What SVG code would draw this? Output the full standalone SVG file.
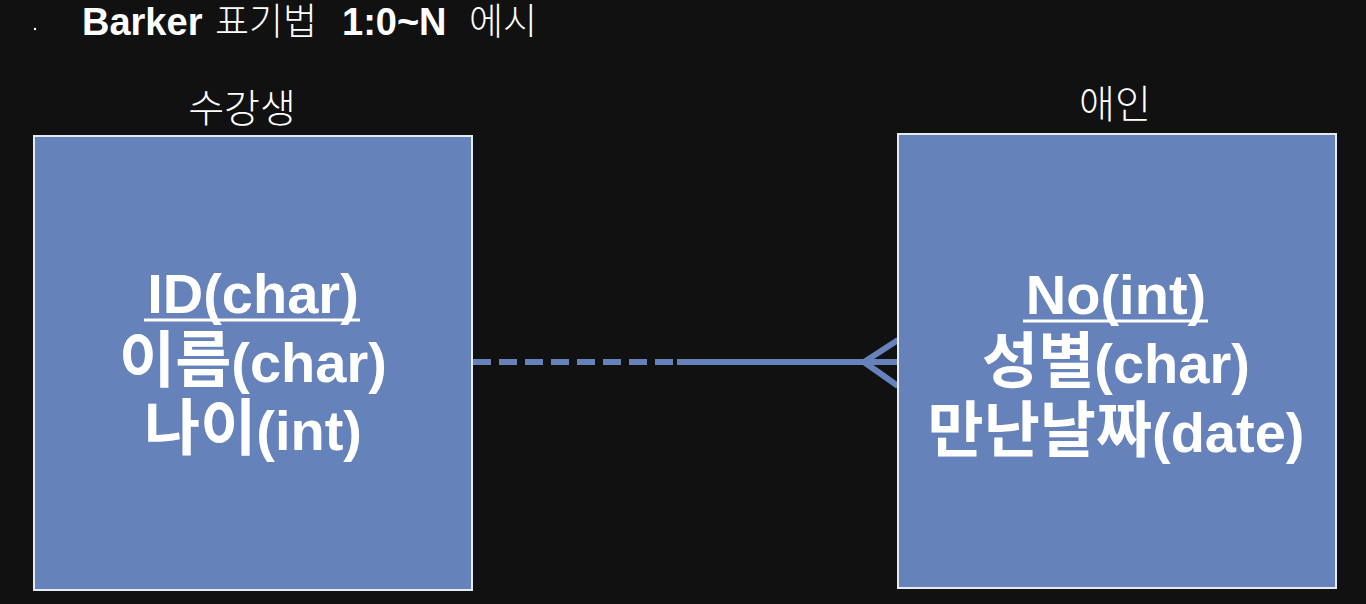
<svg xmlns="http://www.w3.org/2000/svg" width="1366" height="604" viewBox="0 0 1366 604">
  <style>
    .box { fill: #6682ba; stroke: #e6eaf2; stroke-width: 2; }
    .attr { font-family: "Liberation Sans", "Noto Sans CJK KR", sans-serif; font-weight: bold; font-size: 56px; fill: #ffffff; text-anchor: middle; }
    .k { font-size: 61px; }
    .lbl { font-family: "Noto Sans CJK KR", sans-serif; font-weight: 300; font-size: 39px; fill: #ffffff; text-anchor: middle; }
    .title { font-family: "Liberation Sans", "Noto Sans CJK KR", sans-serif; font-size: 38px; fill: #ffffff; }
    .ko { font-family: "Noto Sans CJK KR", sans-serif; font-weight: 300; font-size: 37px; }
    .rel { stroke: #6682ba; stroke-width: 6; fill: none; }
    .ul { stroke: #ffffff; stroke-width: 3; }
  </style>
  <rect width="1366" height="604" fill="#111111"/>
  <circle cx="35" cy="29" r="1.2" fill="#ffffff"/>
  <text class="title" y="35"><tspan x="82" font-weight="bold">Barker</tspan><tspan x="215" class="ko">표기법</tspan><tspan x="342" font-weight="bold">1:0~N</tspan><tspan x="469" class="ko">에시</tspan></text>

  <g id="connectors">
    <line class="rel" x1="473" y1="362" x2="677" y2="362" stroke-dasharray="18 8"/>
    <line class="rel" x1="677" y1="362" x2="898" y2="362"/>
    <polyline class="rel" points="898,340 864,362 898,386"/>
  </g>

  <g id="node-student">
    <text class="lbl" x="242" y="122">수강생</text>
    <rect class="box" x="34" y="136" width="438" height="454"/>
    <text class="attr" x="253" y="313">ID(char)</text>
    <line class="ul" x1="144" y1="320" x2="360" y2="320"/>
    <text class="attr" x="253" y="382"><tspan class="k">이름</tspan>(char)</text>
    <text class="attr" x="253" y="450"><tspan class="k">나이</tspan>(int)</text>
  </g>

  <g id="node-lover">
    <text class="lbl" x="1115" y="118">애인</text>
    <rect class="box" x="898" y="134" width="438" height="454"/>
    <text class="attr" x="1116" y="314">No(int)</text>
    <line class="ul" x1="1023" y1="321" x2="1208" y2="321"/>
    <text class="attr" x="1116" y="383"><tspan class="k">성별</tspan>(char)</text>
    <text class="attr" x="1116" y="452"><tspan class="k">만난날짜</tspan>(date)</text>
  </g>
</svg>
